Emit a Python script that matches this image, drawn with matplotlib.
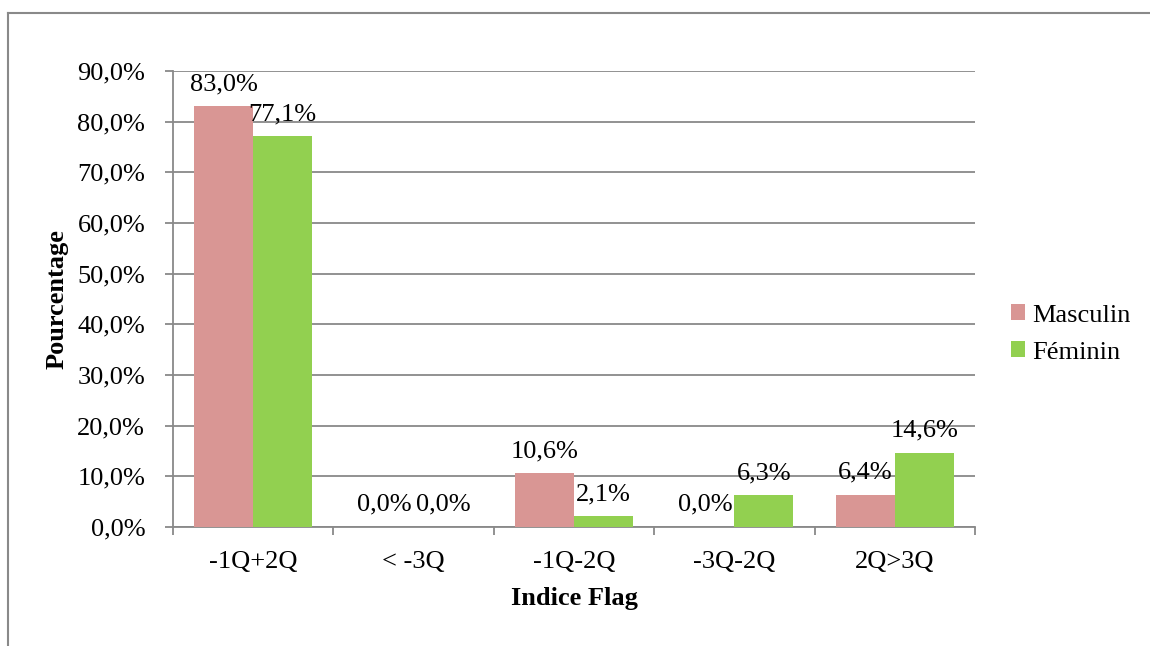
import numpy as np
import matplotlib
matplotlib.use('Agg')
import matplotlib.pyplot as plt
from matplotlib.lines import Line2D

# Données du graphique
categories = ['-1Q+2Q', '< -3Q', '-1Q-2Q', '-3Q-2Q', '2Q>3Q']
masculin = [83.0, 0.0, 10.6, 0.0, 6.4]
feminin = [77.1, 0.0, 2.1, 6.3, 14.6]
y_ticks = [0, 10, 20, 30, 40, 50, 60, 70, 80, 90]

plt.rcParams['font.family'] = ['Liberation Serif', 'DejaVu Serif']

col_m = '#D99694'
col_f = '#92D050'
col_grid = '#898989'
fs = 19

fig = plt.figure(figsize=(11.5, 6.46), dpi=100)
ax = fig.add_axes([173 / 1150, 1 - 527 / 646, (975 - 173) / 1150, (527 - 71) / 646])

x = np.arange(len(categories))
w = 0.367
b1 = ax.bar(x - w / 2, masculin, w, color=col_m, label='Masculin', zorder=3)
b2 = ax.bar(x + w / 2, feminin, w, color=col_f, label='Féminin', zorder=3)

def fmt(v):
    return f'{v:.1f}%'.replace('.', ',')

for bars, vals in [(b1, masculin), (b2, feminin)]:
    for rect, v in zip(bars, vals):
        ax.annotate(fmt(v), (rect.get_x() + rect.get_width() / 2, v),
                    xytext=(0, 8), textcoords='offset points',
                    ha='center', va='bottom', fontsize=fs, zorder=4)

ax.set_xlim(-0.5, len(categories) - 0.5)
ax.set_ylim(0, 90)
ax.set_yticks(y_ticks)
ax.set_yticklabels([fmt(v) for v in y_ticks], fontsize=fs)
ax.set_xticks(x)
ax.set_xticklabels(categories, fontsize=fs)
ax.set_xticks(np.arange(-0.5, len(categories)), minor=True)

ax.tick_params(axis='y', length=6, width=1.3, color=col_grid, pad=14)
ax.tick_params(axis='x', which='major', length=0, pad=17)
ax.tick_params(axis='x', which='minor', length=6, width=1.3, color=col_grid)

ax.grid(axis='y', color=col_grid, linewidth=1.3, zorder=0)
ax.set_axisbelow(True)
for s in ['top', 'right']:
    ax.spines[s].set_visible(False)
for s in ['left', 'bottom']:
    ax.spines[s].set_color(col_grid)
    ax.spines[s].set_linewidth(1.3)

ax.set_ylabel('Pourcentage', fontsize=fs, fontweight='bold', labelpad=6)
ax.set_xlabel('Indice Flag', fontsize=fs, fontweight='bold', labelpad=10)

fig.legend(handles=[b1, b2], loc='center left',
           bbox_to_anchor=(987 / 1150, 1 - 334 / 646), frameon=False,
           fontsize=fs, handlelength=0.55, handleheight=0.55,
           handletextpad=0.25, labelspacing=0.55)

# cadre extérieur
fig.add_artist(Line2D([8 / 1150, 8 / 1150], [0, 1 - 13 / 646],
                      transform=fig.transFigure, color=col_grid, linewidth=1.5))
fig.add_artist(Line2D([8 / 1150, 1], [1 - 13 / 646, 1 - 13 / 646],
                      transform=fig.transFigure, color=col_grid, linewidth=1.5))

fig.savefig('out.png', dpi=100)
